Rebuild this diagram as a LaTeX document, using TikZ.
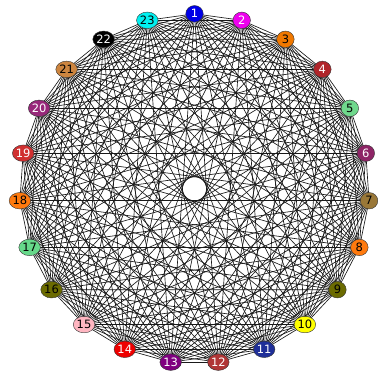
\documentclass[tikz,border=0pt]{standalone}
\usepackage{fontspec}
\setmainfont{DejaVu Sans}
\usetikzlibrary{shapes.geometric,backgrounds}
\definecolor{c1}{HTML}{0000E6}
\definecolor{c2}{HTML}{EE00EE}
\definecolor{c3}{HTML}{F07800}
\definecolor{c4}{HTML}{B0252A}
\definecolor{c5}{HTML}{6FD88C}
\definecolor{c6}{HTML}{8E2466}
\definecolor{c7}{HTML}{9A7838}
\definecolor{c8}{HTML}{FF7A0E}
\definecolor{c9}{HTML}{6B6B00}
\definecolor{c10}{HTML}{FFFF00}
\definecolor{c11}{HTML}{1F2F98}
\definecolor{c12}{HTML}{B03636}
\definecolor{c13}{HTML}{800080}
\definecolor{c14}{HTML}{EE0000}
\definecolor{c15}{HTML}{FFB6C1}
\definecolor{c16}{HTML}{6B6B00}
\definecolor{c17}{HTML}{66D98A}
\definecolor{c18}{HTML}{FF7A0E}
\definecolor{c19}{HTML}{D03030}
\definecolor{c20}{HTML}{98287A}
\definecolor{c21}{HTML}{CD853F}
\definecolor{c22}{HTML}{000000}
\definecolor{c23}{HTML}{00F0F0}
\begin{document}
\begin{tikzpicture}[x=1pt,y=-1pt,
  vtx/.style={ellipse, draw=black!80, line width=0.4pt, inner sep=0.3pt,
    minimum height=16.5pt, minimum width=17.5pt, font=\fontsize{11.5}{11.5}\selectfont},
  edge/.style={line width=0.65pt, draw=black!90}]
\useasboundingbox (0,0) rectangle (378,373);
\foreach \i/\tc in {1/white,2/white,3/black,4/white,5/black,6/white,7/black,8/black,
  9/black,10/black,11/white,12/white,13/white,14/white,15/black,16/black,17/black,
  18/black,19/white,20/white,21/black,22/white,23/black}{
  \node[vtx, fill=c\i, text=\tc] (n\i) at ({194.5+175*cos(90-(\i-1)*360/23)},{188.8-175*sin(90-(\i-1)*360/23)}) {\i};
}
\begin{scope}[on background layer]
\foreach \i in {1,...,22}{
  \pgfmathtruncatemacro\s{\i+1}
  \foreach \j in {\s,...,23}{
    \draw[edge] (n\i.center) -- (n\j.center);
  }
}
\end{scope}
\end{tikzpicture}
\end{document}
